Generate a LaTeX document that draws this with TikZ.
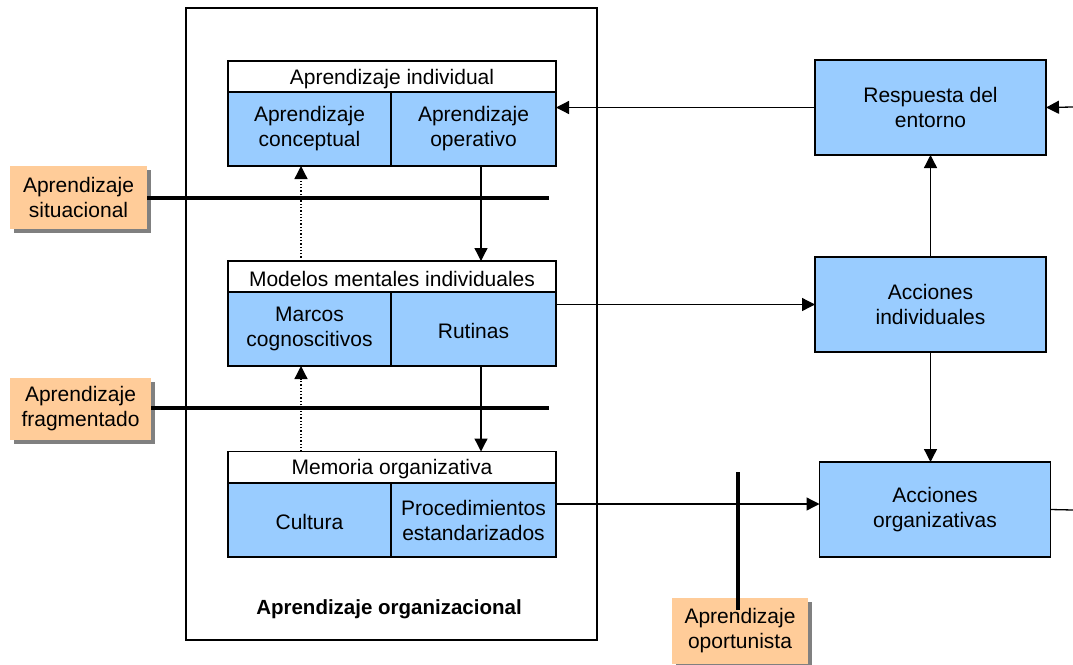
\documentclass[tikz,border=0pt]{standalone}
\usepackage{fontspec}
\setmainfont{Liberation Sans}
\usetikzlibrary{arrows.meta,shadows}
\definecolor{boxblue}{HTML}{99CCFF}
\definecolor{boxorange}{HTML}{FFCC99}
\definecolor{shadowgrey}{HTML}{808080}
\begin{document}
\begin{tikzpicture}[x=1pt,y=-1pt,
  every node/.style={inner sep=0pt,outer sep=0pt,font=\fontsize{21}{25}\selectfont,align=center,
    execute at begin node={\rule{0pt}{20pt}}},
  head/.style={draw=black,line width=1.3pt,fill=white,minimum width=328pt,minimum height=31pt},
  cell/.style={draw=black,line width=1.3pt,fill=boxblue,minimum height=74pt},
  action/.style={draw=black,line width=1.5pt,fill=boxblue,minimum width=231pt,minimum height=95pt},
  mode/.style={draw=none,fill=boxorange,minimum height=63pt,
    drop shadow={shadow xshift=4pt,shadow yshift=-4pt,opacity=1,fill=shadowgrey}},
  flow/.style={line width=1.3pt,-{Triangle[length=13pt,width=13pt]}},
  hint/.style={line width=1.3pt,dotted,-{Triangle[length=13pt,width=13pt]}},
  barrier/.style={line width=4.5pt}]
\useasboundingbox (0,0) rectangle (1073,664);

% organisational learning frame
\node[draw=black,line width=1.3pt,minimum width=411pt,minimum height=632pt] (frame) at (391.5,324) {};
\node[font=\bfseries\fontsize{20.5}{24}\selectfont] (orgl) at (389,607) {Aprendizaje organizacional};

% individual learning
\node[head] (ai) at (392,76.5) {Aprendizaje individual};
\node[cell,minimum width=163pt] (ac) at (309.5,129) {Aprendizaje\\conceptual};
\node[cell,minimum width=165pt] (ao) at (473.5,129) {Aprendizaje\\operativo};

% individual mental models
\node[head] (mm) at (392,276.5) {Modelos mentales individuales};
\node[cell,minimum width=163pt] (mc) at (309.5,329) {Marcos\\cognoscitivos};
\node[cell,minimum width=165pt] (ru) at (473.5,329) {Rutinas};

% organisational memory
\node[head] (me) at (392,467) {Memoria organizativa};
\node[cell,minimum width=163pt] (cu) at (309.5,520) {Cultura};
\node[cell,minimum width=165pt] (pe) at (473.5,520) {Procedimientos\\estandarizados};

% actions and environment
\node[action] (re) at (930.5,107.5) {Respuesta del\\entorno};
\node[action] (ai2) at (930.5,304.5) {Acciones\\individuales};
\node[action] (ao2) at (935,509.5) {Acciones\\organizativas};

% incomplete-learning labels
\node[mode,minimum width=137pt] (sit) at (78.5,197.5) {Aprendizaje\\situacional};
\node[mode,minimum width=141pt,minimum height=62pt] (fra) at (80.5,409) {Aprendizaje\\fragmentado};
\node[mode,minimum width=136pt,minimum height=66pt] (opo) at (740,631) {Aprendizaje\\oportunista};

% free ends
\coordinate (inR) at (1073,107);
\coordinate (outR) at (1073,510);
\coordinate (sitEnd) at (549,198);
\coordinate (fraEnd) at (549,408);
\coordinate (opoTop) at (738,472);
\coordinate (opoBot) at (738,610);
\path ([xshift=-8.5pt]ac.south) coordinate (d1);
\path ([xshift=-8.5pt]mc.south) coordinate (d2);
\path ([xshift=7.5pt]ao.south) coordinate (s1);
\path ([xshift=7.5pt]ru.south) coordinate (s2);

% connectors
\draw[flow] (inR) -- (re.east);
\draw[flow] (re.west) -- (re.west -| ao.east);
\draw[flow] (ai2.north) -- (re.south);
\draw[flow] (ai2.south) -- (ai2.south |- ao2.north);
\draw[line width=1.3pt] (ao2.east) -- (outR);
\draw[flow] (ru.east |- ai2.west) -- (ai2.west);
\draw[flow] (pe.east |- 0,504) -- (ao2.west |- 0,504);
\draw[flow] (s1) -- (s1 |- mm.north);
\draw[flow] (s2) -- (s2 |- me.north);
\draw[hint] (d1 |- mm.north) -- (d1);
\draw[hint] (d2 |- me.north) -- (d2);

% barriers
\draw[barrier] (sit.east |- sitEnd) -- (sitEnd);
\draw[barrier] (fra.east |- fraEnd) -- (fraEnd);
\draw[barrier] (opoTop) -- (opoBot);
\end{tikzpicture}
\end{document}
